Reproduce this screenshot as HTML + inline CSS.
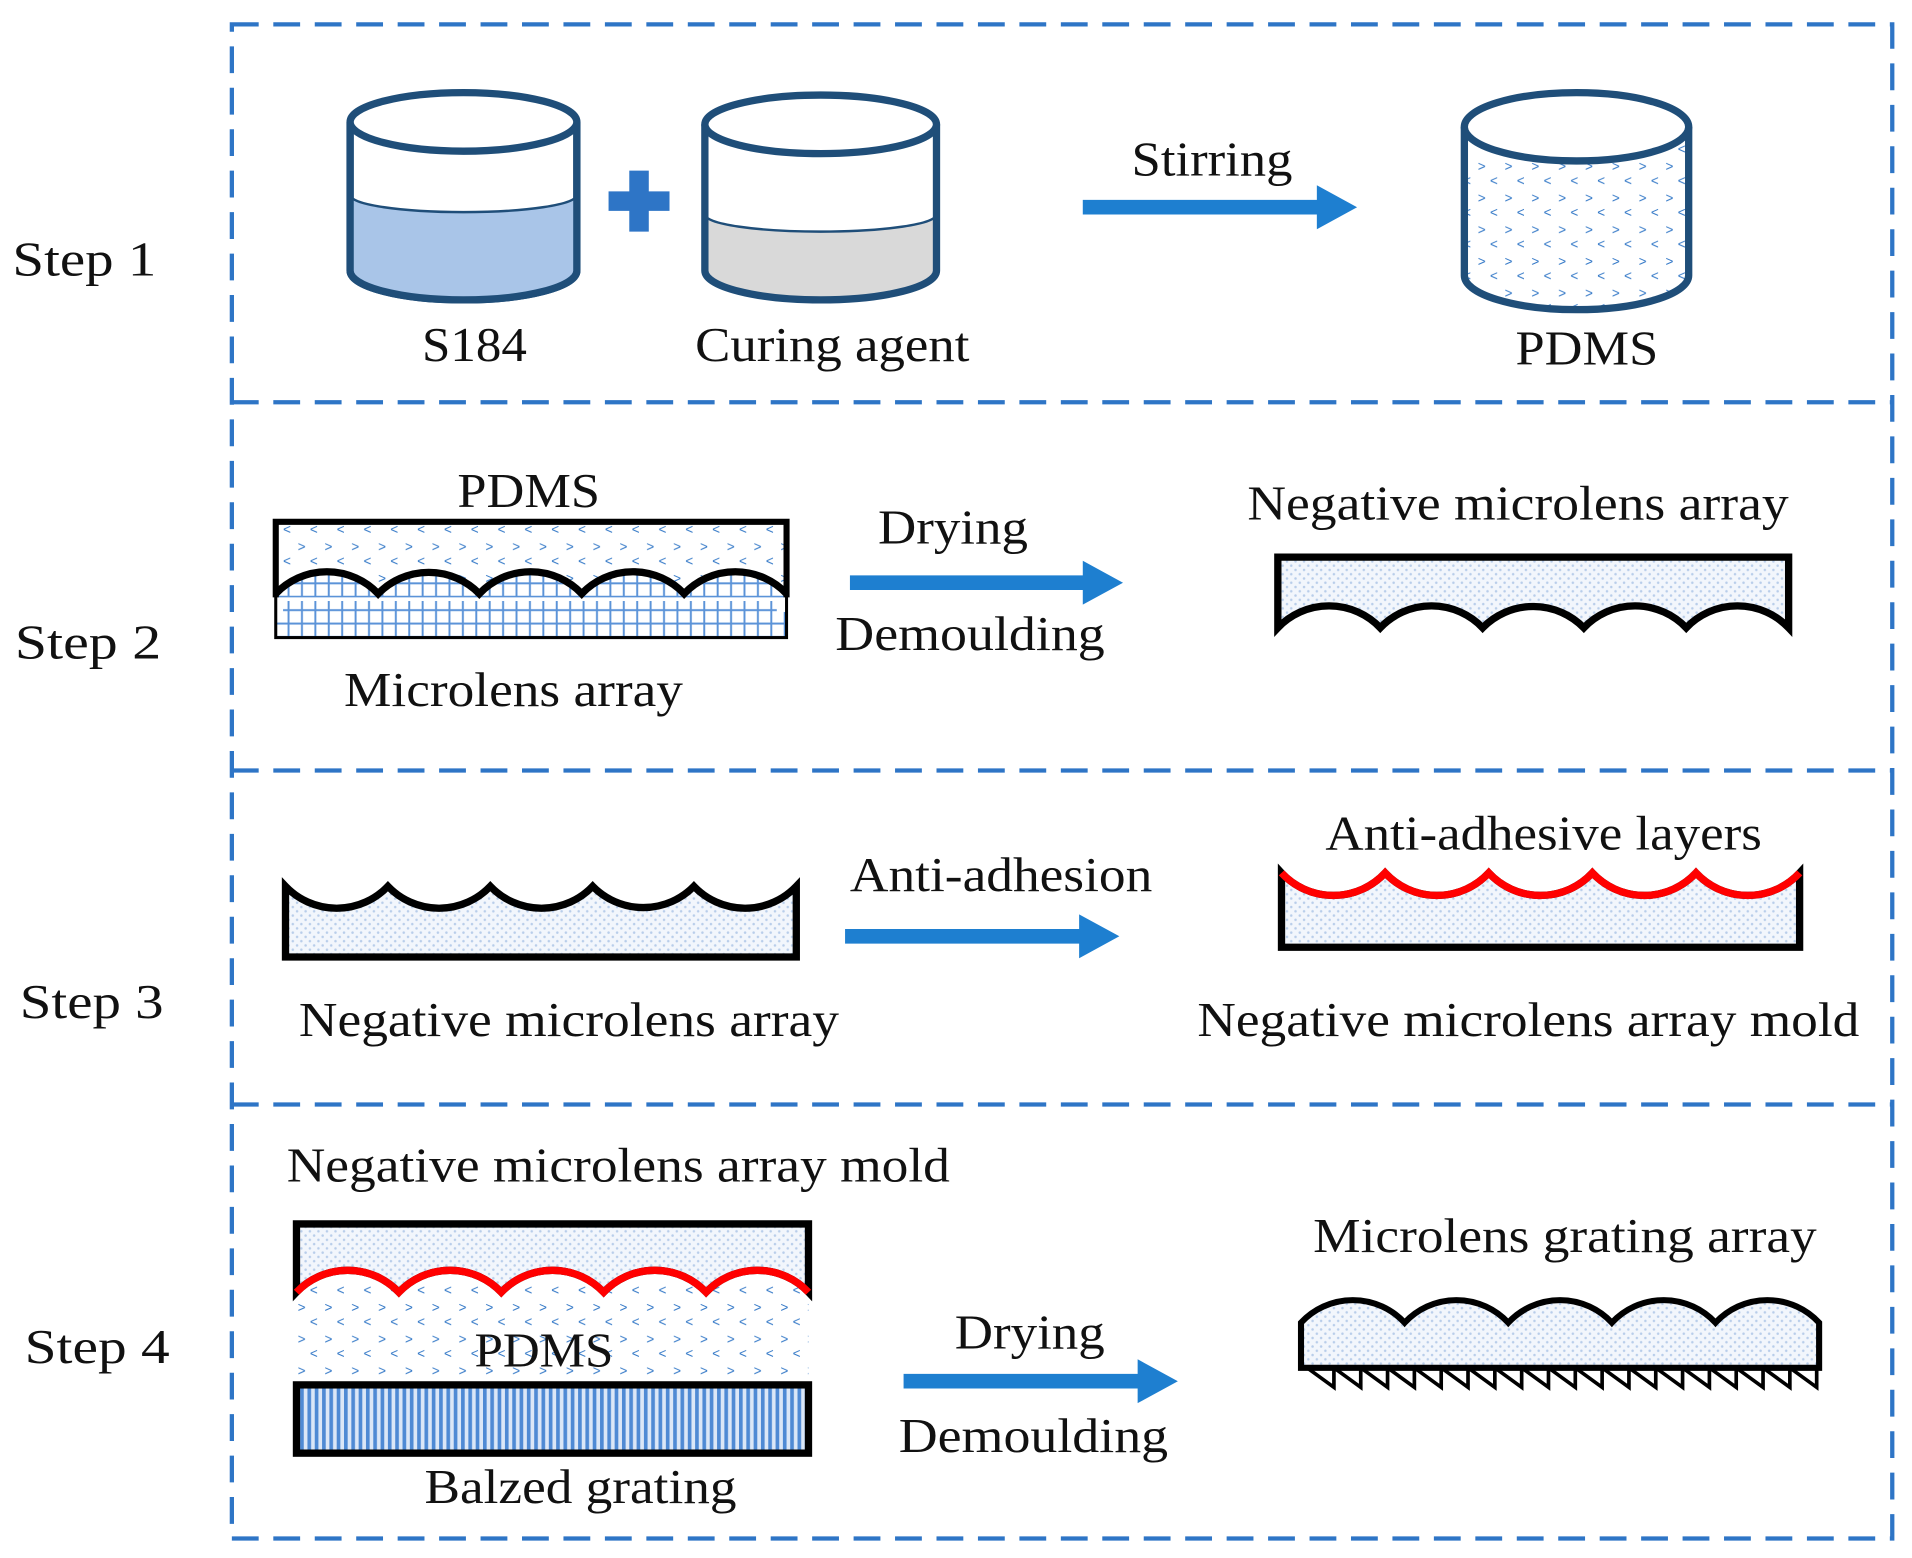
<!DOCTYPE html>
<html><head><meta charset="utf-8"><style>
html,body{margin:0;padding:0;background:#fff;}
svg{display:block;}
text{font-family:"Liberation Serif",serif;fill:#111;}
</style></head><body>
<svg width="1912" height="1558" viewBox="0 0 1568 1278" xmlns="http://www.w3.org/2000/svg">
<defs>
<pattern id="chev" width="22" height="26" patternUnits="userSpaceOnUse">
<rect width="22" height="26" fill="#fff"/>
<text x="2" y="10" font-size="11" style="fill:#2e75c6;font-family:'Liberation Sans',sans-serif">&gt;</text>
<text x="12" y="22" font-size="11" style="fill:#2e75c6;font-family:'Liberation Sans',sans-serif">&lt;</text>
</pattern>
<pattern id="dots" width="7" height="7" patternUnits="userSpaceOnUse">
<rect width="7" height="7" fill="#f2f6fc"/>
<circle cx="2" cy="2" r="1" fill="#b8cdea"/>
<circle cx="5.5" cy="5.5" r="1" fill="#b8cdea"/>
</pattern>
<pattern id="grid" width="11" height="11" patternUnits="userSpaceOnUse">
<rect width="11" height="11" fill="#fff"/>
<path d="M0 5.5H11M5.5 0V11" stroke="#5b93d8" stroke-width="1.6"/>
</pattern>
<pattern id="stripes" width="6" height="10" patternUnits="userSpaceOnUse">
<rect width="6" height="10" fill="#dbe7f7"/>
<rect width="3" height="10" fill="#4f8ad4"/>
</pattern>
</defs>

<g stroke="#2e75c6" stroke-width="3.5" stroke-dasharray="22 12" fill="none">
<rect x="190" y="20" width="1362" height="1242"/>
<line x1="190" y1="330" x2="1552" y2="330"/>
<line x1="190" y1="632" x2="1552" y2="632"/>
<line x1="190" y1="906" x2="1552" y2="906"/>
</g>

<g font-size="40" lengthAdjust="spacingAndGlyphs">
<text x="10" y="226" textLength="118" lengthAdjust="spacingAndGlyphs">Step 1</text>
<text x="12" y="540" textLength="120" lengthAdjust="spacingAndGlyphs">Step 2</text>
<text x="16" y="835" textLength="118" lengthAdjust="spacingAndGlyphs">Step 3</text>
<text x="20" y="1118" textLength="119" lengthAdjust="spacingAndGlyphs">Step 4</text>
</g>

<!-- Step 1 -->
<g stroke="#1f4e79" stroke-width="6">
<path d="M287 100 V222 A93 24 0 0 0 473 222 V100" fill="#fff"/>
<path d="M287 160 A93 14 0 0 0 473 160 V222 A93 24 0 0 1 287 222 Z" fill="#a9c5e8" stroke-width="2"/>
<path d="M287 100 V222 A93 24 0 0 0 473 222 V100" fill="none"/>
<ellipse cx="380" cy="100" rx="93" ry="24" fill="#fff"/>
<path d="M578 176 A95 14 0 0 0 768 176 V222 A95 24 0 0 1 578 222 Z" fill="#d9d9d9" stroke-width="2"/>
<path d="M578 102 V222 A95 24 0 0 0 768 222 V102" fill="none"/>
<ellipse cx="673" cy="102" rx="95" ry="24" fill="#fff"/>
<path d="M1201 128 V226 A92 28 0 0 0 1385 226 V104" fill="url(#chev)" stroke="none"/>
<path d="M1201 104 V226 A92 28 0 0 0 1385 226 V104" fill="none"/>
<ellipse cx="1293" cy="104" rx="92" ry="28" fill="#fff"/>
</g>
<path d="M516 140 H532 V157 H549 V173 H532 V190 H516 V173 H499 V157 H516 Z" fill="#2e75c6"/>
<g font-size="40">
<text x="346" y="296" textLength="86" lengthAdjust="spacingAndGlyphs">S184</text>
<text x="570" y="296" textLength="225" lengthAdjust="spacingAndGlyphs">Curing agent</text>
<text x="928" y="144" textLength="132" lengthAdjust="spacingAndGlyphs">Stirring</text>
<text x="1243" y="299" textLength="117" lengthAdjust="spacingAndGlyphs">PDMS</text>
</g>

<g fill="#1e7fd0">
<path d="M888 164 H1080 V152 L1113 170 L1080 188 V176 H888 Z"/>
<path d="M697 472 H888 V460 L921 478 L888 496 V484 H697 Z"/>
<path d="M693 762 H885 V750 L918 768 L885 786 V774 H693 Z"/>
<path d="M741 1127 H933 V1115 L966 1133 L933 1151 V1139 H741 Z"/>
</g>

<!-- Step 2 left -->
<rect x="226" y="428" width="419" height="95" fill="url(#grid)"/>
<path d="M226 428 H645 V487 A58 58 0 0 0 561 487 A58 58 0 0 0 477 487 A58 58 0 0 0 393 487 A58 58 0 0 0 310 487 A58 58 0 0 0 226 487 Z" fill="url(#chev)"/>
<rect x="226" y="490" width="419" height="12" fill="#fff"/>
<rect x="232" y="493" width="405" height="18" fill="url(#grid)"/>
<path d="M226 487 A58 58 0 0 1 310 487 A58 58 0 0 1 393 487 A58 58 0 0 1 477 487 A58 58 0 0 1 561 487 A58 58 0 0 1 645 487" fill="none" stroke="#000" stroke-width="6"/>
<path d="M226 490 V428 H645 V490" fill="none" stroke="#000" stroke-width="5"/>
<rect x="226" y="428" width="419" height="95" fill="none" stroke="#000" stroke-width="2.5"/>
<g font-size="40">
<text x="375" y="416" textLength="117" lengthAdjust="spacingAndGlyphs">PDMS</text>
<text x="282" y="579" textLength="278" lengthAdjust="spacingAndGlyphs">Microlens array</text>
<text x="720" y="446" textLength="123" lengthAdjust="spacingAndGlyphs">Drying</text>
<text x="685" y="533" textLength="221" lengthAdjust="spacingAndGlyphs">Demoulding</text>
<text x="1023" y="426" textLength="444" lengthAdjust="spacingAndGlyphs">Negative microlens array</text>
</g>
<path d="M1048 515 V457 H1467 V515 A58 58 0 0 0 1383 515 A58 58 0 0 0 1299 515 A58 58 0 0 0 1216 515 A58 58 0 0 0 1132 515 A58 58 0 0 0 1048 515 Z" fill="url(#dots)" stroke="#000" stroke-width="6"/>

<!-- Step 3 -->
<path d="M234 785 V727 A58 58 0 0 0 318 727 A58 58 0 0 0 402 727 A58 58 0 0 0 486 727 A58 58 0 0 0 569 727 A58 58 0 0 0 653 727 V785 Z" fill="url(#dots)" stroke="#000" stroke-width="6"/>
<path d="M1051 777 V716 A58 58 0 0 0 1136 716 A58 58 0 0 0 1221 716 A58 58 0 0 0 1306 716 A58 58 0 0 0 1391 716 A58 58 0 0 0 1476 716 V777 Z" fill="url(#dots)" stroke="#000" stroke-width="6"/>
<path d="M1051 716 A58 58 0 0 0 1136 716 A58 58 0 0 0 1221 716 A58 58 0 0 0 1306 716 A58 58 0 0 0 1391 716 A58 58 0 0 0 1476 716" fill="none" stroke="#ff0000" stroke-width="6"/>
<g font-size="40">
<text x="697" y="731" textLength="248" lengthAdjust="spacingAndGlyphs">Anti-adhesion</text>
<text x="1087" y="697" textLength="358" lengthAdjust="spacingAndGlyphs">Anti-adhesive layers</text>
<text x="245" y="850" textLength="443" lengthAdjust="spacingAndGlyphs">Negative microlens array</text>
<text x="982" y="850" textLength="543" lengthAdjust="spacingAndGlyphs">Negative microlens array mold</text>
</g>

<!-- Step 4 left -->
<rect x="243" y="1050" width="420" height="88" fill="url(#chev)"/>
<path d="M243 1060 V1004 H663 V1060 A58 58 0 0 0 579 1060 A58 58 0 0 0 495 1060 A58 58 0 0 0 411 1060 A58 58 0 0 0 327 1060 A58 58 0 0 0 243 1060 Z" fill="url(#dots)" stroke="#000" stroke-width="6"/>
<path d="M243 1060 A58 58 0 0 1 327 1060 A58 58 0 0 1 411 1060 A58 58 0 0 1 495 1060 A58 58 0 0 1 579 1060 A58 58 0 0 1 663 1060" fill="none" stroke="#ff0000" stroke-width="6"/>
<rect x="243" y="1136" width="420" height="56" fill="url(#stripes)" stroke="#000" stroke-width="6"/>
<g font-size="40">
<text x="235" y="969" textLength="544" lengthAdjust="spacingAndGlyphs">Negative microlens array mold</text>
<text x="389" y="1121" textLength="114" lengthAdjust="spacingAndGlyphs">PDMS</text>
<text x="348" y="1233" textLength="256" lengthAdjust="spacingAndGlyphs">Balzed grating</text>
<text x="783" y="1106" textLength="123" lengthAdjust="spacingAndGlyphs">Drying</text>
<text x="737" y="1191" textLength="221" lengthAdjust="spacingAndGlyphs">Demoulding</text>
<text x="1077" y="1027" textLength="413" lengthAdjust="spacingAndGlyphs">Microlens grating array</text>
</g>
<path d="M1067 1122 V1085 A58 58 0 0 1 1152 1085 A58 58 0 0 1 1237 1085 A58 58 0 0 1 1322 1085 A58 58 0 0 1 1407 1085 A58 58 0 0 1 1492 1085 V1122 Z" fill="url(#dots)" stroke="#000" stroke-width="5"/>
<path fill="none" stroke="#000" stroke-width="3" d="M1072 1122 l22 16 v-16 m0 0 l22 16 v-16 m0 0 l22 16 v-16 m0 0 l22 16 v-16 m0 0 l22 16 v-16 m0 0 l22 16 v-16 m0 0 l22 16 v-16 m0 0 l22 16 v-16 m0 0 l22 16 v-16 m0 0 l22 16 v-16 m0 0 l22 16 v-16 m0 0 l22 16 v-16 m0 0 l22 16 v-16 m0 0 l22 16 v-16 m0 0 l22 16 v-16 m0 0 l22 16 v-16 m0 0 l22 16 v-16 m0 0 l22 16 v-16 m0 0 l22 16 v-16"/>
</svg>
</body></html>
